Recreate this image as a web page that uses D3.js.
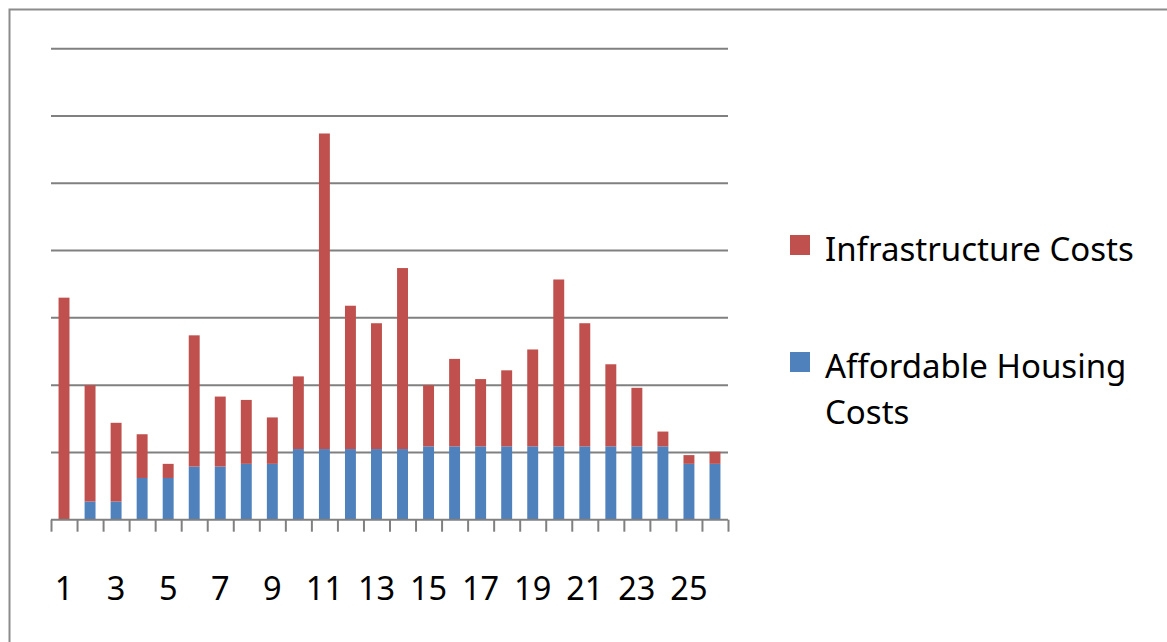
<!DOCTYPE html>
<html>
<head>
<meta charset="utf-8">
<script src="https://cdn.jsdelivr.net/npm/d3@7"></script>
<style>
  html, body { margin: 0; padding: 0; background: #fff; }
  svg { display: block; }
  text { font-family: "Noto Sans", "Open Sans", sans-serif; fill: #000; }
</style>
</head>
<body>
<svg id="chart" width="1167" height="642"></svg>
<script>
// Project index 1..26
const categories = d3.range(1, 27);

// Cost components per project (stacked, bottom to top)
const affordableHousing = [0, 2.7, 2.7, 6.2, 6.2, 7.9, 7.9, 8.3, 8.3, 10.5, 10.5, 10.5, 10.5, 10.5,
  10.9, 10.9, 10.9, 10.9, 10.9, 10.9, 10.9, 10.9, 10.9, 10.9, 8.3, 8.3];
const infrastructure = [33.0, 17.3, 11.7, 6.5, 2.1, 19.5, 10.4, 9.5, 6.9, 10.8, 46.9, 21.3, 18.7, 26.9,
  9.1, 13.0, 10.0, 11.3, 14.4, 24.8, 18.3, 12.2, 8.7, 2.2, 1.3, 1.8];

// Value gridlines and labelled categories
const gridValues = [0, 10, 20, 30, 40, 50, 60, 70];
const labelledCategories = categories.filter(c => c % 2 === 1);

const seriesNames = ["Affordable Housing Costs", "Infrastructure Costs"];
const seriesColors = { "Affordable Housing Costs": "#4F81BD", "Infrastructure Costs": "#C0504D" };

const rows = categories.map((c, i) => ({
  cat: c,
  "Affordable Housing Costs": affordableHousing[i],
  "Infrastructure Costs": infrastructure[i]
}));

const svg = d3.select("#chart");
const plot = { left: 51, right: 728, top: 48.7, bottom: 519.7 };

// Outer chart frame
svg.append("rect")
  .attr("x", 9.5).attr("y", 9.5)
  .attr("width", 1200).attr("height", 700)
  .attr("fill", "none").attr("stroke", "#8c8c8c").attr("stroke-width", 2);

const x = d3.scaleBand()
  .domain(categories)
  .range([plot.left, plot.right])
  .paddingInner(0.58).paddingOuter(0.29);

const xEdges = d3.scaleLinear().domain([0, categories.length]).range([plot.left, plot.right]);

const y = d3.scaleLinear().domain([0, 70]).range([plot.bottom, plot.top]);

// Horizontal gridlines
svg.append("g")
  .selectAll("line")
  .data(gridValues.filter(v => v > 0))
  .join("line")
  .attr("x1", plot.left).attr("x2", plot.right)
  .attr("y1", d => y(d)).attr("y2", d => y(d))
  .attr("stroke", "#808080").attr("stroke-width", 2);

// Stacked bars
const stack = d3.stack().keys(seriesNames)(rows);
svg.append("g")
  .selectAll("g")
  .data(stack)
  .join("g")
  .attr("fill", d => seriesColors[d.key])
  .selectAll("rect")
  .data(d => d)
  .join("rect")
  .attr("x", d => x(d.data.cat))
  .attr("width", x.bandwidth())
  .attr("y", d => y(d[1]))
  .attr("height", d => Math.max(0, y(d[0]) - y(d[1])));

// Category axis with boundary tick marks
const axisG = svg.append("g")
  .attr("transform", `translate(0,${plot.bottom})`)
  .call(d3.axisBottom(xEdges)
    .tickValues(d3.range(0, categories.length + 1))
    .tickSize(12)
    .tickFormat(""));
axisG.select(".domain").attr("stroke", "#808080").attr("stroke-width", 2)
  .attr("d", `M${plot.left},0H${plot.right}`);
axisG.selectAll(".tick line").attr("stroke", "#808080").attr("stroke-width", 2);

// Category labels (every other project)
svg.append("g")
  .selectAll("text")
  .data(labelledCategories)
  .join("text")
  .attr("x", d => x(d) + x.bandwidth() / 2)
  .attr("y", 600)
  .attr("text-anchor", "middle")
  .attr("font-size", 32.5)
  .text(d => d);

// Legend
const legend = svg.append("g");
const legendItems = [
  { name: "Infrastructure Costs", lines: ["Infrastructure Costs"], sq: 235 },
  { name: "Affordable Housing Costs", lines: ["Affordable Housing", "Costs"], sq: 352 }
];
legendItems.forEach(item => {
  legend.append("rect")
    .attr("x", 790).attr("y", item.sq)
    .attr("width", 20).attr("height", 20)
    .attr("fill", seriesColors[item.name]);
  const t = legend.append("text")
    .attr("x", 825).attr("y", item.sq + 25.7)
    .attr("font-size", 33);
  item.lines.forEach((ln, j) => {
    t.append("tspan").attr("x", 825).attr("dy", j === 0 ? 0 : 46.7).text(ln);
  });
});
</script>
</body>
</html>
